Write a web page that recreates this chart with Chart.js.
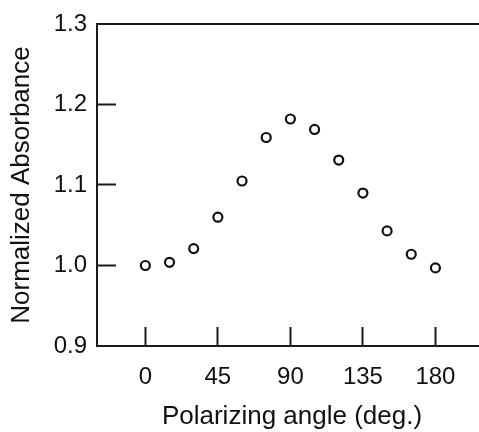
<!DOCTYPE html>
<html>
<head>
<meta charset="utf-8">
<script src="https://cdn.jsdelivr.net/npm/chart.js@4/dist/chart.umd.min.js"></script>
<style>
    html, body { margin: 0; padding: 0; background: #fff; overflow: hidden; }
    canvas { display: block; }
</style>
</head>
<body>
<canvas id="grafico" width="487" height="432"></canvas>
<script>
// Absorbância normalizada em função do ângulo do polarizador
const angulos = [0, 15, 30, 45, 60, 75, 90, 105, 120, 135, 150, 165, 180];
const absorbancia = [1.000, 1.004, 1.021, 1.060, 1.105, 1.159, 1.182, 1.169, 1.131, 1.090, 1.043, 1.014, 0.997];
const ticksX = [0, 45, 90, 135, 180];
const ticksY = [0.9, 1.0, 1.1, 1.2, 1.3];

const corEixo = '#1a1a1a';
const fonte = 'Arial, "Liberation Sans", sans-serif';

// zera o espaço extra que os rótulos reservam nas laterais
function semPaddingLateral(scale) {
    scale.paddingLeft = 0;
    scale.paddingRight = 0;
}

function criarGraficoDispersao(canvasId) {
    const ctx = document.getElementById(canvasId);
    if (!ctx) return null;

    return new Chart(ctx, {
        type: 'scatter',
        data: {
            datasets: [{
                data: angulos.map((a, i) => ({ x: a, y: absorbancia[i] })),
                pointRadius: 4.5,
                pointBorderWidth: 2.2,
                pointBorderColor: '#111',
                pointBackgroundColor: '#fff',
                showLine: false
            }]
        },
        options: {
            responsive: false,
            animation: false,
            devicePixelRatio: 1,
            layout: {
                autoPadding: false,
                padding: { top: 4, left: 0, right: 0, bottom: 0 }
            },
            plugins: {
                legend: { display: false },
                tooltip: { enabled: false }
            },
            scales: {
                x: {
                    type: 'linear',
                    position: 'bottom',
                    min: -30,
                    max: 212,
                    afterBuildTicks: scale => {
                        scale.ticks = ticksX.map(v => ({ value: v }));
                    },
                    afterFit: scale => {
                        scale.height = 86;
                        semPaddingLateral(scale);
                    },
                    border: { display: true, color: corEixo, width: 2 },
                    grid: {
                        drawOnChartArea: false,
                        drawTicks: true,
                        tickLength: -19,
                        tickWidth: 2,
                        tickColor: corEixo,
                        color: 'rgba(0,0,0,0)'
                    },
                    ticks: {
                        padding: 36,
                        color: '#111',
                        font: { family: fonte, size: 24 },
                        maxRotation: 0
                    },
                    title: {
                        display: true,
                        text: 'Polarizing angle (deg.)',
                        color: '#111',
                        font: { family: fonte, size: 26 },
                        padding: { top: 0, bottom: 0 }
                    }
                },
                // linha superior da moldura
                x2: {
                    type: 'linear',
                    position: 'top',
                    min: -30,
                    max: 212,
                    afterFit: scale => {
                        scale.height = 20;
                        semPaddingLateral(scale);
                    },
                    border: { display: true, color: corEixo, width: 2 },
                    grid: { drawOnChartArea: false, drawTicks: false },
                    ticks: { display: false }
                },
                y: {
                    min: 0.9,
                    max: 1.3,
                    afterBuildTicks: scale => {
                        scale.ticks = ticksY.map(v => ({ value: v }));
                    },
                    afterFit: scale => {
                        scale.width = 97;
                        // o padding dos rótulos não deve empurrar a área do gráfico
                        scale.paddingTop = 0;
                        scale.paddingBottom = 0;
                    },
                    border: { display: true, color: corEixo, width: 2 },
                    grid: {
                        drawOnChartArea: false,
                        drawTicks: true,
                        tickLength: -19,
                        tickWidth: 2,
                        tickColor: c => {
                            const v = c.tick ? c.tick.value : null;
                            return (v === 0.9 || v === 1.3) ? 'rgba(0,0,0,0)' : corEixo;
                        },
                        color: 'rgba(0,0,0,0)'
                    },
                    ticks: {
                        padding: 29,
                        color: '#111',
                        font: { family: fonte, size: 24 },
                        callback: v => v.toFixed(1)
                    },
                    title: {
                        display: true,
                        text: 'Normalized Absorbance',
                        color: '#111',
                        font: { family: fonte, size: 26 },
                        padding: { top: 6, bottom: 0 }
                    }
                }
            }
        }
    });
}

criarGraficoDispersao('grafico');
</script>
</body>
</html>
